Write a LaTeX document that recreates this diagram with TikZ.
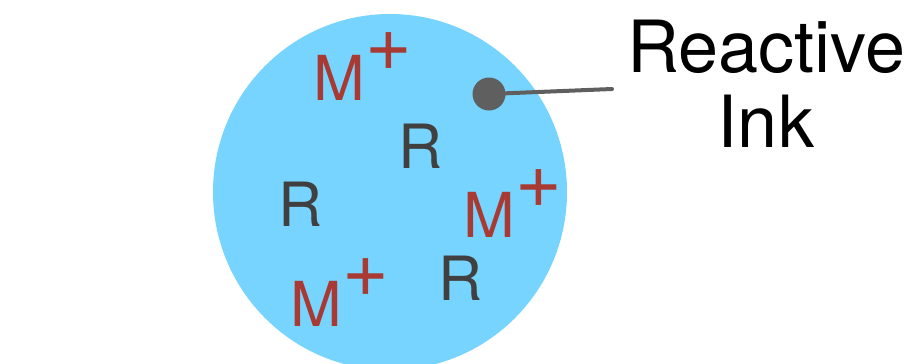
\documentclass[tikz,border=0pt]{standalone}
\usepackage{fontspec}
\setmainfont{TeX Gyre Heros}
\definecolor{inkblue}{HTML}{77D4FF}
\definecolor{ionred}{HTML}{A83A33}
\definecolor{rgray}{HTML}{404040}
\definecolor{dotgray}{HTML}{5F5F5F}
\newcommand{\charge}{\raisebox{30pt}{\fontsize{80}{80}\selectfont +}}
\begin{document}
\begin{tikzpicture}[x=1pt,y=-1pt,
  ion/.style={inner sep=0pt, anchor=base west, text=ionred, font=\fontsize{62}{62}\selectfont},
  rad/.style={inner sep=0pt, anchor=base west, text=rgray, font=\fontsize{61}{61}\selectfont},
  label/.style={inner sep=0pt, align=center, font=\fontsize{72}{75}\selectfont, text=black},
  pin/.style={circle, fill=dotgray, inner sep=0pt, minimum size=33pt},
  pinline/.style={draw=dotgray, line width=4pt, line cap=round}]
\useasboundingbox (0,0) rectangle (911,364);
\clip (0,0) rectangle (911,364);
\fill[inkblue] (390,192) ellipse [x radius=177, y radius=178];
\node[ion] (m1) at (313.4,100) {M\charge};
\node[ion] (m2) at (463.4,237) {M\charge};
\node[ion] (m3) at (290.4,326) {M\charge};
\node[rad] (r1) at (398,168) {R};
\node[rad] (r2) at (278,226) {R};
\node[rad] (r3) at (438,300) {R};
\node[pin] (dot) at (489,94) {};
\coordinate (lineend) at (612,89);
\draw[pinline] (dot.center) -- (lineend);
\node[label, anchor=base] (lbl) at (766,147) {Reactive\\Ink};
\end{tikzpicture}
\end{document}
